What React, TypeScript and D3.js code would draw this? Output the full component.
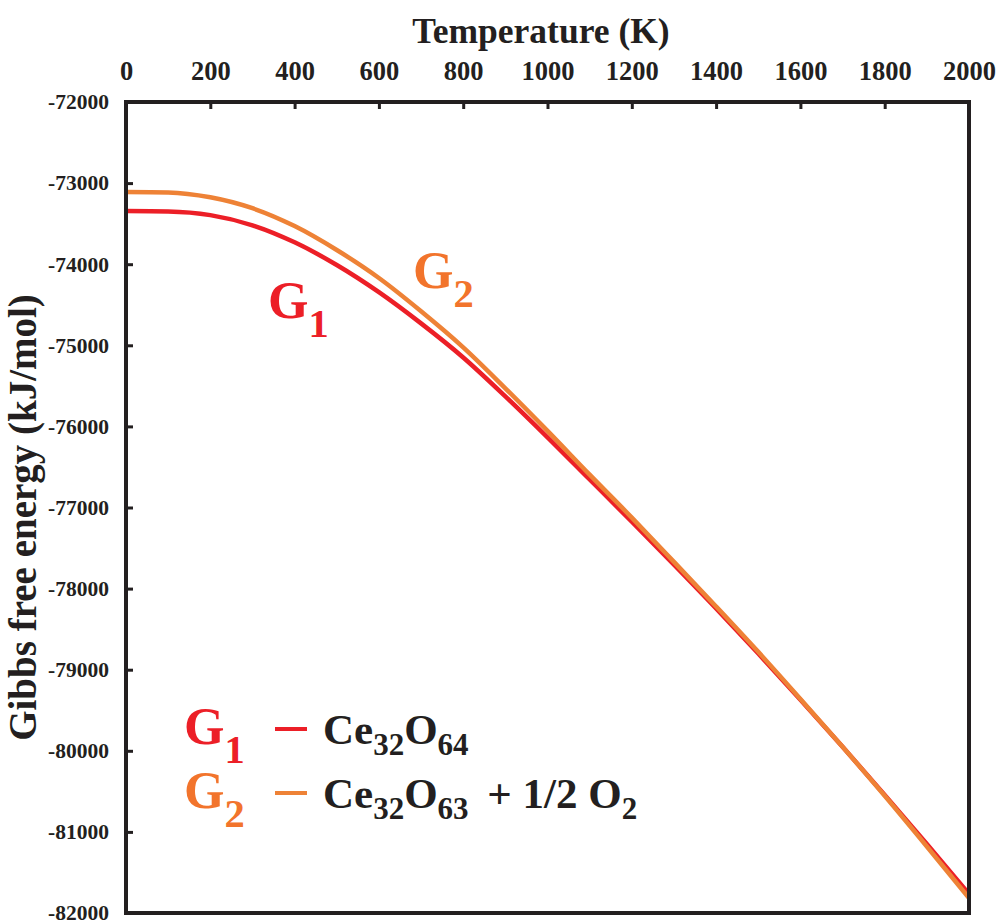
import { useEffect, useRef } from "react";
import * as d3 from "d3";

// temperature grid (K)
const TEMPS = [0, 100, 200, 300, 400, 500, 600, 700, 800, 900, 1000, 1100, 1200, 1300, 1400, 1500, 1600, 1700, 1800, 1900, 2000];

// G1 : Ce32O64 (kJ/mol)
const G1 = [-73345, -73350, -73395, -73520, -73730, -74010, -74345, -74730, -75150, -75630, -76135, -76655, -77175, -77705, -78245, -78800, -79370, -79950, -80545, -81150, -81765];

// G2 : Ce32O63 + 1/2 O2 (kJ/mol)
const G2 = [-73110, -73115, -73175, -73310, -73530, -73825, -74170, -74580, -75025, -75530, -76055, -76595, -77125, -77670, -78220, -78780, -79360, -79950, -80555, -81180, -81815];

const X_TICKS = [0, 200, 400, 600, 800, 1000, 1200, 1400, 1600, 1800, 2000];
const Y_TICKS = [-72000, -73000, -74000, -75000, -76000, -77000, -78000, -79000, -80000, -81000, -82000];

const RED = "#ec1f27";
const ORANGE = "#ee8236";
const ORANGE_TXT = "#f2742c";
const INK = "#231f20";
const FONT = "Liberation Serif";

export default function App() {
  const svgRef = useRef<SVGSVGElement | null>(null);

  useEffect(() => {
    if (!svgRef.current) return;
    const W = 998, H = 921;
    const left = 126, right = 969, top = 102, bottom = 913;

    const svg = d3.select(svgRef.current);
    svg.selectAll("*").remove();
    svg.attr("width", W).attr("height", H);

    const x = d3.scaleLinear().domain([0, 2000]).range([left, right]);
    const y = d3.scaleLinear().domain([-82000, -72000]).range([bottom, top]);

    // top axis (ticks point inward)
    const xAxis = svg.append("g")
      .attr("transform", `translate(0,${top})`)
      .call(d3.axisTop(x).tickValues(X_TICKS).tickSize(-7).tickPadding(22).tickFormat(d3.format("d")));
    xAxis.attr("font-family", FONT).attr("font-size", 26.5);
    xAxis.select(".domain").remove();
    xAxis.selectAll("line").attr("stroke", INK).attr("stroke-width", 3);
    xAxis.selectAll("text").attr("font-weight", 700).attr("fill", INK);

    // left axis
    const yAxis = svg.append("g")
      .attr("transform", `translate(${left},0)`)
      .call(d3.axisLeft(y).tickValues(Y_TICKS).tickSize(-7).tickPadding(17).tickFormat(d3.format("d")));
    yAxis.attr("font-family", FONT).attr("font-size", 21.5);
    yAxis.select(".domain").remove();
    yAxis.selectAll("line").attr("stroke", INK).attr("stroke-width", 3);
    yAxis.selectAll("text").attr("font-weight", 700).attr("fill", INK)
      .text((d) => `-${Math.abs(d as number)}`);

    // curves
    const line = d3.line<number>()
      .x((_, i) => x(TEMPS[i]))
      .y((d) => y(d))
      .curve(d3.curveMonotoneX);

    svg.append("path").attr("d", line(G1)).attr("fill", "none")
      .attr("stroke", RED).attr("stroke-width", 4.5);
    svg.append("path").attr("d", line(G2)).attr("fill", "none")
      .attr("stroke", ORANGE).attr("stroke-width", 4.5);

    // frame
    svg.append("rect")
      .attr("x", left).attr("y", top)
      .attr("width", right - left).attr("height", bottom - top)
      .attr("fill", "none").attr("stroke", INK).attr("stroke-width", 4);

    // axis titles
    svg.append("text")
      .attr("x", 541).attr("y", 43)
      .attr("text-anchor", "middle")
      .attr("font-family", FONT).attr("font-weight", 700).attr("font-size", 35.5).attr("fill", INK)
      .text("Temperature (K)");

    svg.append("text")
      .attr("transform", `translate(36,${(top + bottom) / 2 + 10}) rotate(-90)`)
      .attr("text-anchor", "middle")
      .attr("font-family", FONT).attr("font-weight", 700).attr("font-size", 39).attr("fill", INK)
      .text("Gibbs free energy (kJ/mol)");

    // G label helper
    const gLabel = (px: number, py: number, sub: string, color: string, size: number) => {
      const t = svg.append("text")
        .attr("x", px).attr("y", py)
        .attr("font-family", FONT).attr("font-weight", 700).attr("font-size", size).attr("fill", color);
      t.append("tspan").text("G");
      t.append("tspan").attr("font-size", size * 0.78).attr("dy", size * 0.36).text(sub);
    };

    // in-plot labels
    gLabel(268, 318, "1", RED, 52);
    gLabel(413, 288, "2", ORANGE_TXT, 52);

    // legend
    const formula = (px: number, py: number, parts: [string, boolean, number?][]) => {
      const t = svg.append("text")
        .attr("x", px).attr("y", py)
        .attr("font-family", FONT).attr("font-weight", 700).attr("font-size", 43).attr("fill", INK);
      let down = false;
      parts.forEach(([s, sub, gap]) => {
        const ts = t.append("tspan").text(s);
        if (gap) ts.attr("dx", gap);
        if (sub && !down) { ts.attr("font-size", 31).attr("dy", 11); down = true; }
        else if (!sub && down) { ts.attr("dy", -11); down = false; }
        else if (sub) ts.attr("font-size", 31);
      });
    };

    gLabel(184, 744, "1", RED, 52);
    svg.append("line").attr("x1", 275).attr("x2", 307).attr("y1", 729).attr("y2", 729)
      .attr("stroke", RED).attr("stroke-width", 4);
    formula(323, 744, [["Ce", false], ["32", true], ["O", false], ["64", true]]);

    gLabel(184, 808, "2", ORANGE_TXT, 52);
    svg.append("line").attr("x1", 275).attr("x2", 307).attr("y1", 793).attr("y2", 793)
      .attr("stroke", ORANGE).attr("stroke-width", 4);
    formula(323, 808, [["Ce", false], ["32", true], ["O", false], ["63", true], ["\u00a0+ 1/2 O", false, 8], ["2", true]]);
  }, []);

  return (
    <svg ref={svgRef} style={{ position: "absolute", left: 0, top: 0, background: "#fff" }} />
  );
}
